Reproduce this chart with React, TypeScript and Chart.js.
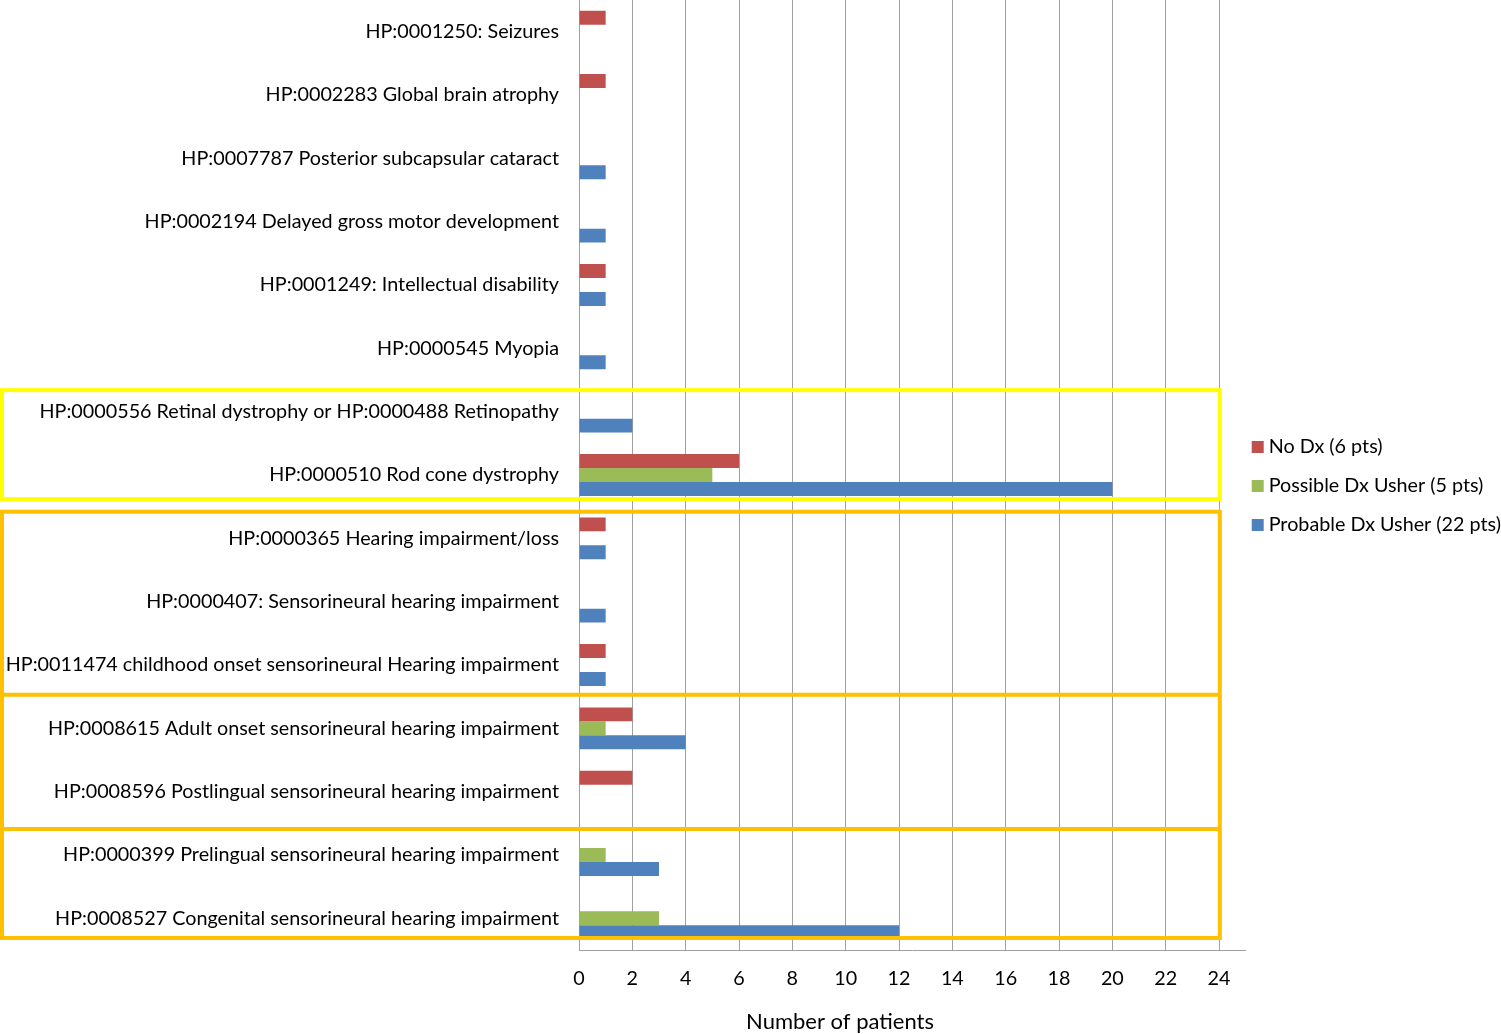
import React, { useEffect, useRef } from 'react';
import { Chart, registerables } from 'chart.js';

Chart.register(...registerables);

const categories: string[] = [
  'HP:0001250: Seizures',
  'HP:0002283 Global brain atrophy',
  'HP:0007787 Posterior subcapsular cataract',
  'HP:0002194 Delayed gross motor development',
  'HP:0001249: Intellectual disability',
  'HP:0000545 Myopia',
  'HP:0000556 Retinal dystrophy or HP:0000488 Retinopathy',
  'HP:0000510 Rod cone dystrophy',
  'HP:0000365 Hearing impairment/loss',
  'HP:0000407: Sensorineural hearing impairment',
  'HP:0011474 childhood onset sensorineural Hearing impairment',
  'HP:0008615 Adult onset sensorineural hearing impairment',
  'HP:0008596 Postlingual sensorineural hearing impairment',
  'HP:0000399 Prelingual sensorineural hearing impairment',
  'HP:0008527 Congenital sensorineural hearing impairment',
];

const seriesLabels: string[] = [
  'No Dx (6 pts)',
  'Possible Dx Usher (5 pts)',
  'Probable Dx Usher (22 pts)',
];

const noDx: number[] = [1, 1, 0, 0, 1, 0, 0, 6, 1, 0, 1, 2, 2, 0, 0];
const possibleDx: number[] = [0, 0, 0, 0, 0, 0, 0, 5, 0, 0, 0, 1, 0, 1, 3];
const probableDx: number[] = [0, 0, 1, 1, 1, 1, 2, 20, 1, 1, 1, 4, 0, 3, 12];

const xAxisMax = 25;
const xTickStep = 2;
const xAxisTitle = 'Number of patients';

const seriesColors = ['#C0504D', '#9BBB59', '#4F81BD'];
const FONT = 'Lato';
const LABEL_SIZE = 19.75;

const overlayPlugin = {
  id: 'overlayPlugin',
  afterDraw(chart: any) {
    const { ctx, chartArea, scales } = chart;
    const n = categories.length;
    const band = (chartArea.bottom - chartArea.top) / n;
    const py = (f: number) => chartArea.top + f * band;
    const left = 2;
    const right = scales.x.getPixelForValue(24.03);
    ctx.save();
    ctx.lineWidth = 4;
    // yellow group box
    ctx.strokeStyle = '#FFFF00';
    ctx.strokeRect(left, py(6.16), right - left, py(7.88) - py(6.16));
    // orange group boxes
    ctx.strokeStyle = '#FFC000';
    ctx.strokeRect(left, py(8.08), right - left, py(14.81) - py(8.08));
    [10.97, 13.09].forEach((f) => {
      ctx.beginPath();
      ctx.moveTo(left, py(f));
      ctx.lineTo(right, py(f));
      ctx.stroke();
    });

    // legend
    const lx = chartArea.right + 6;
    const cy0 = (chartArea.top + chartArea.bottom) / 2 - 28;
    ctx.font = `${LABEL_SIZE}px ${FONT}`;
    ctx.textBaseline = 'middle';
    ctx.textAlign = 'left';
    chart.data.datasets.forEach((ds: any, i: number) => {
      const cy = cy0 + i * 39;
      ctx.fillStyle = ds.backgroundColor;
      ctx.fillRect(lx, cy - 6, 12, 12);
      ctx.fillStyle = '#000';
      ctx.fillText(ds.label, lx + 17, cy);
    });

    // x-axis title
    ctx.font = `22px ${FONT}`;
    ctx.textAlign = 'center';
    ctx.textBaseline = 'middle';
    ctx.fillStyle = '#000';
    ctx.fillText(xAxisTitle, 840, chartArea.bottom + 72);
    ctx.restore();
  },
};

export default function App() {
  const canvasRef = useRef<HTMLCanvasElement | null>(null);

  useEffect(() => {
    if (!canvasRef.current) return;
    Chart.defaults.font.family = FONT;
    const chart = new Chart(canvasRef.current, {
      type: 'bar',
      data: {
        labels: categories,
        datasets: [
          { label: seriesLabels[0], data: noDx, backgroundColor: seriesColors[0] },
          { label: seriesLabels[1], data: possibleDx, backgroundColor: seriesColors[1] },
          { label: seriesLabels[2], data: probableDx, backgroundColor: seriesColors[2] },
        ],
      },
      options: {
        indexAxis: 'y',
        animation: false,
        responsive: true,
        maintainAspectRatio: false,
        layout: { padding: { left: 0, top: 0, right: 1501 - 1245.7, bottom: 0 } },
        datasets: {
          bar: { categoryPercentage: 0.66, barPercentage: 1.0, borderWidth: 0 },
        },
        plugins: {
          legend: { display: false },
          tooltip: { enabled: false },
        },
        scales: {
          x: {
            type: 'linear',
            min: 0,
            max: xAxisMax,
            ticks: {
              stepSize: xTickStep,
              includeBounds: false,
              color: '#000',
              font: { size: LABEL_SIZE, family: FONT },
              padding: 17,
            },
            grid: { color: '#A0A0A0', lineWidth: 1, drawTicks: false },
            border: { color: '#A0A0A0', width: 1 },
            afterFit: (scale: any) => {
              scale.height = 84;
            },
          },
          y: {
            type: 'category',
            ticks: {
              color: '#000',
              font: { size: LABEL_SIZE, family: FONT },
              padding: 20,
              autoSkip: false,
            },
            grid: { display: false, drawTicks: false },
            border: { color: '#A0A0A0', width: 1 },
            afterFit: (scale: any) => {
              scale.width = 579;
              scale.paddingTop = 0;
              scale.paddingBottom = 0;
            },
          },
        },
      },
      plugins: [overlayPlugin],
    });
    return () => chart.destroy();
  }, []);

  return (
    <div style={{ position: 'absolute', left: 0, top: 0, width: 1501, height: 1034, background: '#fff' }}>
      <canvas ref={canvasRef} />
    </div>
  );
}
